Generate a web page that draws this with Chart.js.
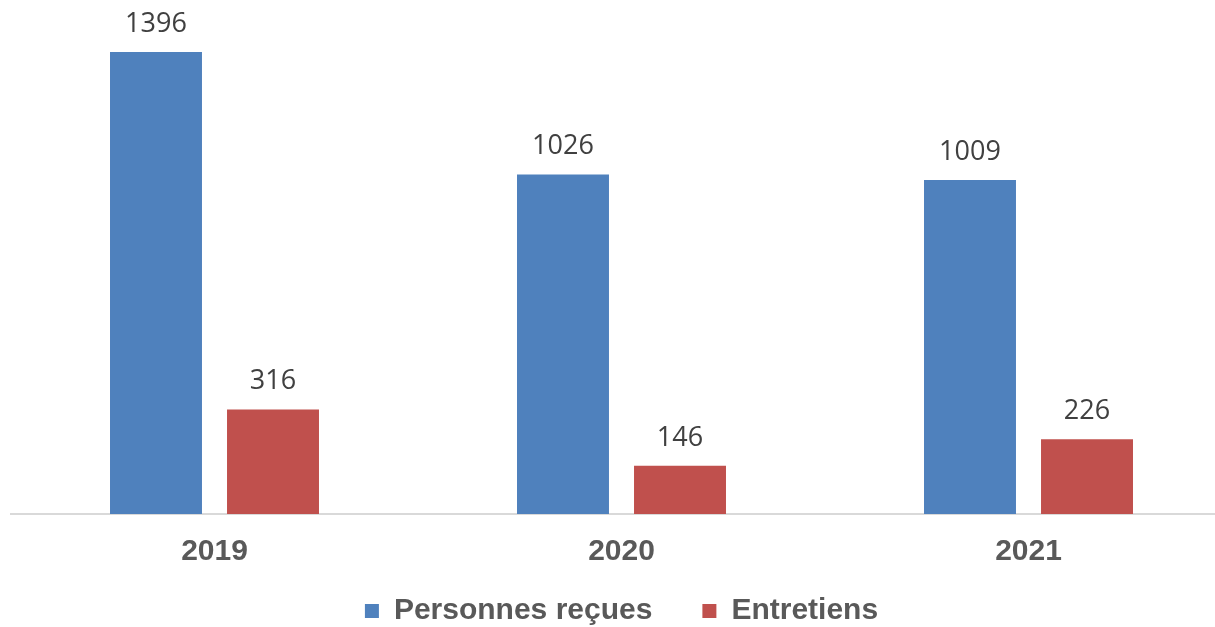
<!DOCTYPE html>
<html>
<head>
<meta charset="utf-8">
<script src="https://cdn.jsdelivr.net/npm/chart.js@4/dist/chart.umd.min.js"></script>
<style>
  html, body { margin: 0; padding: 0; background: #fff; overflow: hidden; }
  /* le graphique original déborde un peu à droite de l'image */
  #wrap { width: 1232px; height: 627px; position: relative; }
</style>
</head>
<body>
<div id="wrap"><canvas id="chart"></canvas></div>
<script>
// données
const years = ['2019', '2020', '2021'];
const personnesRecues = [1396, 1026, 1009];
const entretiens = [316, 146, 226];
const seriesNames = ['Personnes reçues', 'Entretiens'];

// étiquettes de valeurs au-dessus des barres
const valueLabels = {
    id: 'valueLabels',
    afterDatasetsDraw(chart) {
        const ctx = chart.ctx;
        ctx.save();
        ctx.font = '27px "Open Sans"';
        ctx.fillStyle = '#404040';
        ctx.textAlign = 'center';
        ctx.textBaseline = 'alphabetic';
        chart.data.datasets.forEach((ds, i) => {
            chart.getDatasetMeta(i).data.forEach((bar, j) => {
                ctx.fillText(ds.data[j], bar.x, bar.y - 20);
            });
        });
        ctx.restore();
    }
};

new Chart(document.getElementById('chart'), {
    type: 'bar',
    data: {
        labels: years,
        datasets: [{
            label: seriesNames[0],
            data: personnesRecues,
            backgroundColor: '#4f81bd'
        }, {
            label: seriesNames[1],
            data: entretiens,
            backgroundColor: '#c0504d'
        }]
    },
    options: {
        responsive: true,
        maintainAspectRatio: false,
        animation: false,
        layout: { padding: { left: 11, right: 0, top: 0, bottom: -9 } },
        datasets: {
            bar: { categoryPercentage: 0.575, barPercentage: 0.786 }
        },
        scales: {
            x: {
                grid: { display: false, drawTicks: false },
                border: { display: true, color: '#d9d9d9', width: 2 },
                ticks: {
                    color: '#595959',
                    padding: 20,
                    font: { family: '"Liberation Sans", Arial', size: 30, weight: 'bold' }
                }
            },
            y: {
                display: false,
                min: 0,
                max: 1553
            }
        },
        plugins: {
            legend: {
                position: 'bottom',
                // titre vide : juste un peu d'espace au-dessus de la légende
                title: { display: true, text: ' ', font: { size: 1, lineHeight: 1 }, padding: { top: 0, bottom: 5 } },
                labels: {
                    boxWidth: 14,
                    boxHeight: 14,
                    padding: 0,
                    color: '#595959',
                    font: { family: '"Liberation Sans", Arial', size: 30, weight: 'bold', lineHeight: 1 },
                    generateLabels(chart) {
                        const items = Chart.defaults.plugins.legend.labels.generateLabels(chart);
                        // espace supplémentaire entre les deux entrées
                        items[0].text = items[0].text + '      ';
                        return items;
                    }
                }
            },
            tooltip: { enabled: false }
        }
    },
    plugins: [valueLabels]
});
</script>
</body>
</html>
